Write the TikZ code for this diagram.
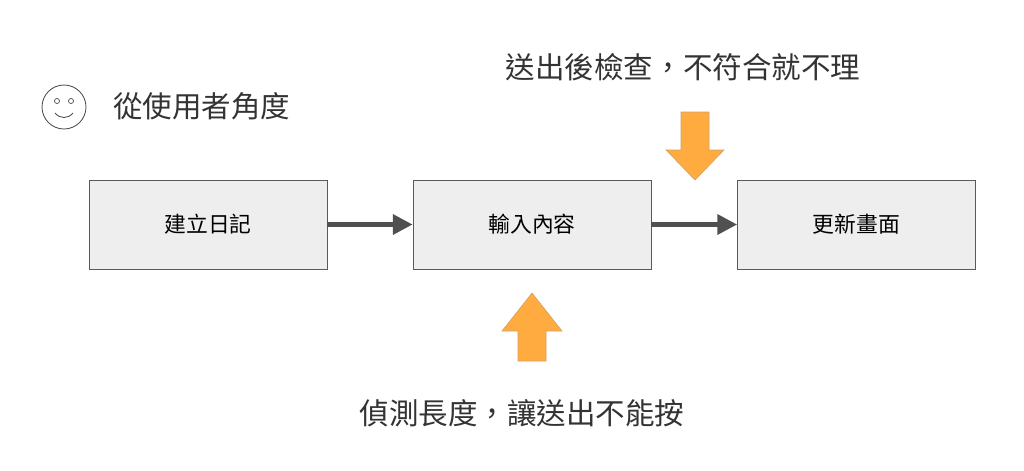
\documentclass[tikz,border=0pt]{standalone}
\usepackage{fontspec}
\newfontfamily\cjk{Noto Sans CJK TC}
\usetikzlibrary{arrows.meta}
\definecolor{boxfill}{HTML}{EEEEEE}
\definecolor{boxline}{HTML}{595959}
\definecolor{orng}{HTML}{FFAB40}
\definecolor{orngline}{HTML}{B7791F}
\begin{document}
\begin{tikzpicture}[x=0.025cm,y=-0.025cm,
  box/.style={draw=boxline,fill=boxfill,line width=0.6pt,minimum width=238*0.025cm,minimum height=89*0.025cm,font=\cjk\fontsize{15.5}{18}\selectfont,inner sep=0pt},
  conn/.style={draw=boxline!90!black,line width=3pt,-{Triangle[length=14pt,width=14pt]}},
  lbl/.style={font=\cjk\fontsize{21}{25}\selectfont,text=black!80,inner sep=0pt},
  bigarrow/.style={fill=orng,draw=orngline!70,line width=0.4pt}]
\useasboundingbox (0,0) rectangle (1024,470);
\node[box] (a) at (208,224.5) {建立日記};
\node[box] (b) at (532,224.5) {輸入內容};
\node[box] (c) at (856.5,224.5) {更新畫面};
\draw[conn] (a.east) -- (b.west);
\draw[conn] (b.east) -- (c.west);
% smiley
\node[draw=black!70,line width=0.6pt,circle,minimum size=44*0.025cm,inner sep=0pt] (s) at (64,107) {};
\draw[black!70,line width=0.5pt] (57,101) circle (2.5);
\draw[black!70,line width=0.5pt] (71,101) circle (2.5);
\draw[black!70,line width=0.6pt] (55,113) .. controls (60,119) and (68,119) .. (73,113);
\node[lbl,anchor=west] (t0) at (113,106) {從使用者角度};
\node[lbl] (t1) at (683,67) {送出後檢查，不符合就不理};
\node[lbl] (t2) at (522,413) {偵測長度，讓送出不能按};
% orange arrows
\draw[bigarrow] (681,112) -- (709,112) -- (709,150) -- (724,150) -- (695,180) -- (666,150) -- (681,150) -- cycle;
\draw[bigarrow] (518,361) -- (546,361) -- (546,331) -- (562,331) -- (532,293) -- (502,331) -- (518,331) -- cycle;
\end{tikzpicture}
\end{document}
